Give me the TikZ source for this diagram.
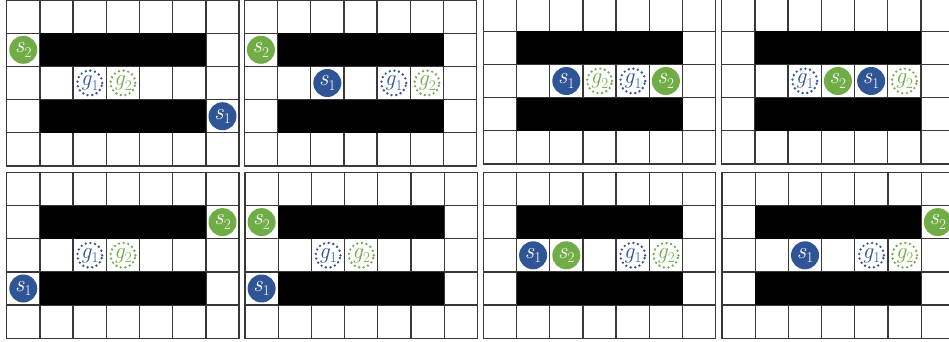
\documentclass[tikz,border=0pt]{standalone}
\definecolor{agblue}{HTML}{2F5597}
\definecolor{aggreen}{HTML}{70AD47}
\newcommand{\lab}[2]{{\itshape #1}\kern0.3pt\raisebox{-4.5pt}{\fontsize{15}{15}\selectfont #2}}
\tikzset{
 gridline/.style={line width=1.3pt, draw=black!78, line cap=rect},
 wall/.style={fill=black},
 agent/.style={circle, inner sep=0pt, minimum size=28pt, text=white, font=\fontsize{23}{23}\selectfont},
 aone/.style={agent, fill=agblue},
 atwo/.style={agent, fill=aggreen},
 goal/.style={circle, inner sep=0pt, minimum size=25pt, line width=2.6pt, dash pattern=on 0pt off 4.7pt, line cap=round, font=\fontsize{23}{23}\selectfont},
 gone/.style={goal, draw=agblue, text=agblue},
 gtwo/.style={goal, draw=aggreen, text=aggreen},
}
\newcommand{\gridpanel}[3]{%
  \begin{scope}[shift={(#1pt,#2pt)}, x=33.2pt, y=-33.2pt]
    \foreach \i in {0,...,7} \draw[gridline] (\i,0) -- (\i,5);
    \foreach \j in {0,...,5} \draw[gridline] (0,\j) -- (7,\j);
    \fill[wall] (1,1) rectangle (6,2);
    \fill[wall] (1,3) rectangle (6,4);
    #3
  \end{scope}}
\begin{document}
\begin{tikzpicture}
\useasboundingbox (0,0) rectangle (949pt,-341pt);
\clip (0,0) rectangle (949pt,-341pt);
\fill[white] (0,0) rectangle (949pt,-341pt);
% panel 1
\gridpanel{6.7}{0}{
  \node[atwo] (p1s2) at (0.5,1.5) {\lab{s}{2}};
  \node[aone] (p1s1) at (6.5,3.5) {\lab{s}{1}};
  \node[gone] (p1g1) at (2.5,2.5) {\lab{g}{1}};
  \node[gtwo] (p1g2) at (3.5,2.5) {\lab{g}{2}};
}
% panel 2
\gridpanel{244.3}{0}{
  \node[atwo] (p2s2) at (0.5,1.5) {\lab{s}{2}};
  \node[aone] (p2s1) at (2.5,2.5) {\lab{s}{1}};
  \node[gone] (p2g1) at (4.5,2.5) {\lab{g}{1}};
  \node[gtwo] (p2g2) at (5.5,2.5) {\lab{g}{2}};
}
% panel 3
\gridpanel{483.3}{2}{
  \node[aone] (p3s1) at (2.5,2.5) {\lab{s}{1}};
  \node[gtwo] (p3g2) at (3.5,2.5) {\lab{g}{2}};
  \node[gone] (p3g1) at (4.5,2.5) {\lab{g}{1}};
  \node[atwo] (p3s2) at (5.5,2.5) {\lab{s}{2}};
}
% panel 4
\gridpanel{721.7}{2}{
  \node[gone] (p4g1) at (2.5,2.5) {\lab{g}{1}};
  \node[atwo] (p4s2) at (3.5,2.5) {\lab{s}{2}};
  \node[aone] (p4s1) at (4.5,2.5) {\lab{s}{1}};
  \node[gtwo] (p4g2) at (5.5,2.5) {\lab{g}{2}};
}
% panel 5
\gridpanel{6.7}{-172.3}{
  \node[atwo] (p5s2) at (6.5,1.5) {\lab{s}{2}};
  \node[aone] (p5s1) at (0.5,3.5) {\lab{s}{1}};
  \node[gone] (p5g1) at (2.5,2.5) {\lab{g}{1}};
  \node[gtwo] (p5g2) at (3.5,2.5) {\lab{g}{2}};
}
% panel 6
\gridpanel{245}{-172.3}{
  \node[atwo] (p6s2) at (0.5,1.5) {\lab{s}{2}};
  \node[aone] (p6s1) at (0.5,3.5) {\lab{s}{1}};
  \node[gone] (p6g1) at (2.5,2.5) {\lab{g}{1}};
  \node[gtwo] (p6g2) at (3.5,2.5) {\lab{g}{2}};
}
% panel 7
\gridpanel{483.3}{-172.3}{
  \node[aone] (p7s1) at (1.5,2.5) {\lab{s}{1}};
  \node[atwo] (p7s2) at (2.5,2.5) {\lab{s}{2}};
  \node[gone] (p7g1) at (4.5,2.5) {\lab{g}{1}};
  \node[gtwo] (p7g2) at (5.5,2.5) {\lab{g}{2}};
}
% panel 8
\gridpanel{722}{-172.3}{
  \node[aone] (p8s1) at (2.5,2.5) {\lab{s}{1}};
  \node[gone] (p8g1) at (4.5,2.5) {\lab{g}{1}};
  \node[gtwo] (p8g2) at (5.5,2.5) {\lab{g}{2}};
  \node[atwo] (p8s2) at (6.5,1.5) {\lab{s}{2}};
}
\end{tikzpicture}
\end{document}
